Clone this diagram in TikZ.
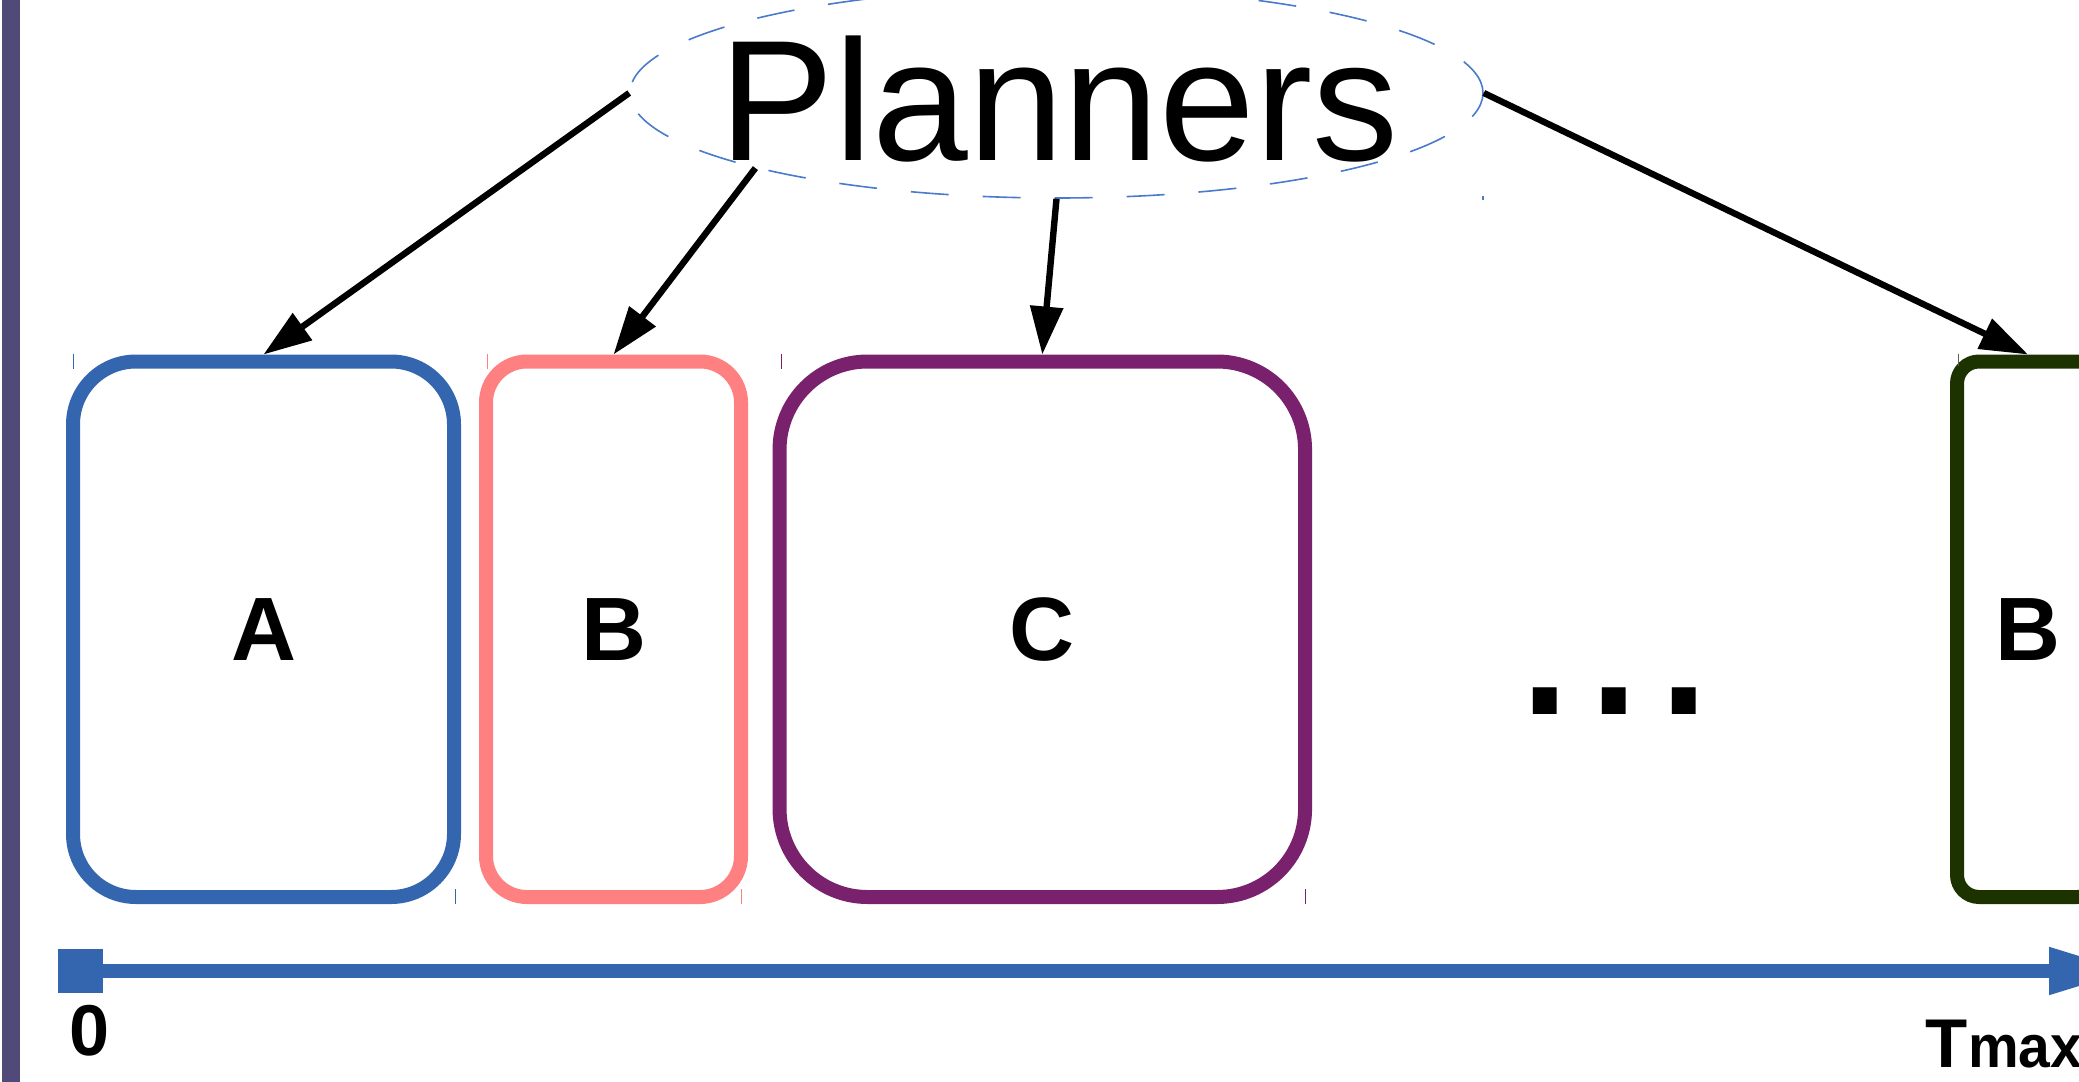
\documentclass[tikz,border=0pt]{standalone}
\usepackage{fontspec}
\setmainfont{Liberation Sans}
\newfontfamily\maxfont[FakeStretch=0.95]{Liberation Sans}
\usetikzlibrary{arrows.meta,shapes.geometric}
\definecolor{barcol}{RGB}{79,74,120}
\definecolor{colA}{RGB}{52,101,175}
\definecolor{colB}{RGB}{255,128,128}
\definecolor{colC}{RGB}{122,33,110}
\definecolor{colD}{RGB}{28,51,0}
\definecolor{elcol}{RGB}{74,122,204}
\tikzset{
  box/.style={draw, rectangle, line width=7pt, minimum height=267.75pt, inner sep=0pt,
    font=\fontsize{45pt}{45pt}\selectfont\bfseries},
  arr/.style={draw=black, line width=3.2pt, -{Triangle[length=24pt,width=16pt]}},
  tl/.style={draw=colA, line width=7pt,
    {Square[length=22.5pt,width=22pt]}-{Triangle[length=41pt,width=22pt]}},
  tick/.style={line width=0.5pt},
}
\begin{document}
\begin{tikzpicture}[x=0.5pt,y=-0.5pt]
\useasboundingbox (0,0) rectangle (2079,1082);
\clip (0,0) rectangle (2079,1082);
\fill[barcol] (2,0) rectangle (20,1082);
% planners ellipse
\node[ellipse, draw=elcol, line width=0.8pt, dash pattern=on 19pt off 17pt,
  minimum width=426.5pt, minimum height=105pt, inner sep=0pt] (pl) at (1056.5,93) {};
\node[anchor=base, inner sep=0pt, font=\fontsize{86pt}{86pt}\selectfont] (plt) at (1059,160) {Planners};
\fill[elcol] (1482,196) rectangle (1483.5,200);
% boxes
\node[box, draw=colA, minimum width=190.5pt, rounded corners=31.5pt] (a) at (263.5,629.25) {A};
\node[box, draw=colB, minimum width=127.5pt, rounded corners=20.5pt] (b) at (613.5,629.25) {B};
\node[box, draw=colC, minimum width=262.75pt, rounded corners=44pt] (c) at (1042.3,629.25) {C};
\node[box, draw=colD, minimum width=71pt, rounded corners=11pt] (d) at (2028,629.25) {B};
% corner ticks
\draw[tick, colA] (73,354) -- (73,369) (455,889) -- (455,904);
\draw[tick, colB] (487,354) -- (487,369) (741,889) -- (741,904);
\draw[tick, colC] (781,354) -- (781,369) (1305.5,889) -- (1305.5,904);
\draw[tick, gray!60!colD] (1958,354) -- (1958,366);
% ellipsis
\node[anchor=base west, inner sep=0pt, font=\fontsize{125pt}{125pt}\selectfont] (dots) at (1510,714.5) {...};
% arrows
\draw[arr] (pl.west) -- (a.north);
\draw[arr] (pl.194) -- (b.north);
\draw[arr] (pl.south) -- (c.north);
\draw[arr] (pl.east) -- (d.north);
% timeline
\coordinate (t0) at (58,971);
\coordinate (t1) at (2131,971);
\draw[tl] (t0) -- (t1);
\node[anchor=base, inner sep=0pt, font=\fontsize{36pt}{36pt}\selectfont\bfseries] (zero) at (90,1055) {0};
\node[anchor=base west, inner sep=0pt, font=\bfseries] (tmax) at (1925.5,1067)
  {{\fontsize{34.5pt}{34.5pt}\selectfont T}{\maxfont\bfseries\fontsize{30pt}{30pt}\selectfont max}};
\end{tikzpicture}
\end{document}
